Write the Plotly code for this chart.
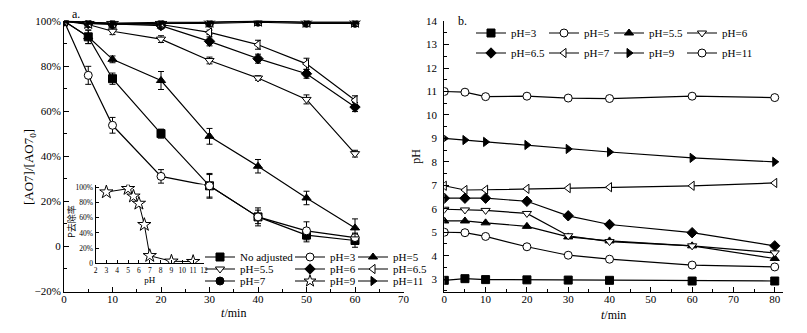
import plotly.graph_objects as go

# ---------------- data: panel a ----------------
t_a = [0, 5, 10, 20, 30, 40, 50, 60]
names_a = ["No adjusted", "pH=3", "pH=5", "pH=5.5", "pH=6", "pH=6.5", "pH=7", "pH=9", "pH=11"]
a_noadj = [100, 93, 74.4, 50, 26.8, 13, 4.9, 2.5]
a_ph3 = [100, 75.9, 53.7, 31, 26.8, 13, 6.8, 3.8]
a_ph5 = [100, 93, 83, 73.6, 48.8, 35.5, 21.4, 8.1]
a_ph55 = [100, 98.5, 95.5, 92, 82.5, 74.7, 65.2, 41.1]
a_ph6 = [100, 99, 98.8, 98, 91, 83.3, 76.6, 61.8]
a_ph65 = [100, 99.5, 99, 98.5, 95, 89.5, 81, 64.8]
a_ph7 = [100, 99, 98.5, 99, 99, 99.5, 99, 99]
a_ph9 = [100, 99, 99, 99, 99.5, 100, 99.5, 99.5]
a_ph11 = [100, 99.5, 99, 99.5, 99.5, 100, 99.5, 99.5]

e_noadj = [0, 3, 2.5, 2, 5, 3, 3, 3]
e_ph3 = [0, 4, 3.5, 3, 5.5, 4, 4, 2]
e_ph5 = [0, 3, 1.5, 4, 3.5, 3, 3, 4]
e_ph55 = [0, 1, 1.5, 1.5, 1.5, 1, 2, 1.5]
e_ph6 = [0, 1, 1, 1.5, 2, 2, 2, 2]
e_ph65 = [0, 1, 1, 1, 1, 2, 2.5, 2]
e_ph7 = [0, 0.5, 0.5, 0.5, 0.5, 0.5, 0.5, 0.5]
e_ph9 = [0, 0.5, 0.5, 0.5, 0.5, 0.5, 0.5, 0.5]
e_ph11 = [0, 0.5, 0.5, 0.5, 0.5, 0.5, 0.5, 0.5]

a_yticks = [-20, 0, 20, 40, 60, 80, 100]
a_yticktext = ["\u221220%", "0", "20%", "40%", "60%", "80%", "100%"]

# inset
inset_ph = [3, 5, 5.5, 6, 6.5, 7, 9, 11]
inset_removal = [94, 98.5, 88.5, 79, 51, 10, 2.7, 2.2]
inset_yticks = [0, 20, 40, 60, 80, 100]
inset_yticktext = ["0", "20%", "40%", "60%", "80%", "100%"]

# ---------------- data: panel b ----------------
t_b = [0, 5, 10, 20, 30, 40, 60, 80]
names_b = ["pH=3", "pH=5", "pH=5.5", "pH=6", "pH=6.5", "pH=7", "pH=9", "pH=11"]
b_ph3 = [2.95, 3.02, 2.98, 2.97, 2.96, 2.95, 2.92, 2.92]
b_ph5 = [5.0, 4.98, 4.82, 4.38, 4.02, 3.85, 3.6, 3.52]
b_ph55 = [5.48, 5.48, 5.4, 5.25, 4.8, 4.63, 4.42, 3.88]
b_ph6 = [5.98, 5.95, 5.93, 5.8, 4.85, 4.6, 4.42, 4.12]
b_ph65 = [6.45, 6.45, 6.45, 6.32, 5.7, 5.33, 4.98, 4.42]
b_ph7 = [6.98, 6.8, 6.81, 6.85, 6.88, 6.92, 6.98, 7.1]
b_ph9 = [9.0, 8.93, 8.85, 8.72, 8.55, 8.42, 8.17, 8.0]
b_ph11 = [11.0, 10.97, 10.78, 10.8, 10.72, 10.7, 10.8, 10.74]

FONT = "Liberation Serif"
BLACK = "#000000"
W, H = 807, 333


def px(x):
    return x / W


def py(y):
    return 1 - y / H


def marker(sym, size=8):
    hollow = sym.endswith("-open")
    base = sym.replace("-open", "")
    return dict(symbol=base, size=size, color="white" if hollow else BLACK,
                line=dict(color=BLACK, width=1))


fig = go.Figure()

series_a = [
    (a_noadj, e_noadj, "square", "legend", 45),
    (a_ph3, e_ph3, "circle-open", "legend", 18),
    (a_ph5, e_ph5, "triangle-up", "legend", 30),
    (a_ph55, e_ph55, "triangle-down-open", "legend2", 45),
    (a_ph6, e_ph6, "diamond", "legend2", 18),
    (a_ph65, e_ph65, "triangle-left-open", "legend2", 30),
    (a_ph7, e_ph7, "circle", "legend3", 45),
    (a_ph9, e_ph9, "star-open", "legend3", 18),
    (a_ph11, e_ph11, "triangle-right", "legend3", 30),
]
for name, (vals, errs, sym, leg, lw) in zip(names_a, series_a):
    fig.add_trace(go.Scatter(
        x=t_a, y=vals, name=name, mode="lines+markers",
        line=dict(color=BLACK, width=1.2),
        marker=marker(sym, 9 if "star" in sym else 8),
        error_y=dict(type="data", array=errs, color=BLACK, thickness=1, width=3),
        xaxis="x", yaxis="y", legend=leg, legendwidth=lw,
    ))

# inset
fig.add_trace(go.Scatter(
    x=inset_ph, y=inset_removal, mode="lines+markers", showlegend=False,
    line=dict(color=BLACK, width=1),
    marker=marker("star-open", 10),
    xaxis="x3", yaxis="y3",
))

series_b = [
    (b_ph3, "square", "legend4", 28),
    (b_ph5, "circle-open", "legend4", 20),
    (b_ph55, "triangle-up", "legend4", 28),
    (b_ph6, "triangle-down-open", "legend4", 30),
    (b_ph65, "diamond", "legend5", 28),
    (b_ph7, "triangle-left-open", "legend5", 20),
    (b_ph9, "triangle-right", "legend5", 28),
    (b_ph11, "circle-open", "legend5", 30),
]
for name, (vals, sym, leg, lw) in zip(names_b, series_b):
    fig.add_trace(go.Scatter(
        x=t_b, y=vals, name=name, mode="lines+markers",
        line=dict(color=BLACK, width=1.2),
        marker=marker(sym, 8),
        xaxis="x2", yaxis="y2", legend=leg, legendwidth=lw,
    ))

YDOM = [0.123, 0.938]

axis_common = dict(
    showline=True, linecolor=BLACK, linewidth=1, ticks="inside", ticklen=5,
    tickcolor=BLACK, showgrid=False, zeroline=False, mirror=False,
    tickfont=dict(family=FONT, size=11, color=BLACK), automargin=False,
)
inset_common = dict(
    showline=True, linecolor=BLACK, linewidth=1, ticks="inside", ticklen=3,
    tickcolor=BLACK, showgrid=False, zeroline=False, automargin=False,
    tickfont=dict(family=FONT, size=7.5, color=BLACK),
)


def leg(x, y, size=11):
    return dict(x=x, y=y, xanchor="left", yanchor="middle", orientation="h",
                bgcolor="rgba(0,0,0,0)", borderwidth=0, tracegroupgap=0,
                font=dict(family=FONT, size=size, color=BLACK), itemsizing="trace")


def label(text, x, y, size=12, angle=0, family=FONT, anchor="center"):
    return dict(text=text, x=px(x), y=py(y), xref="paper", yref="paper",
                showarrow=False, xanchor=anchor, yanchor="middle", textangle=angle,
                font=dict(family=family, size=size, color=BLACK))


fig.update_layout(
    width=W, height=H, margin=dict(l=0, r=0, t=0, b=0),
    paper_bgcolor="white", plot_bgcolor="white", showlegend=True,
    font=dict(family=FONT, color=BLACK),
    xaxis=dict(**axis_common, domain=[px(64), px(403.5)], range=[0, 70], dtick=10,
               ticklabelstandoff=-3,
               minor=dict(ticks="inside", ticklen=3, dtick=5, tickcolor=BLACK),
               title=dict(text="<i>t</i>/min", font=dict(family=FONT, size=12, color=BLACK), standoff=4),
               anchor="y"),
    yaxis=dict(**axis_common, domain=YDOM, range=[-20.4, 100.2],
               tickmode="array", tickvals=a_yticks, ticktext=a_yticktext,
               minor=dict(ticks="inside", ticklen=3, tickmode="linear", tick0=0, dtick=10, tickcolor=BLACK),
               anchor="x"),
    xaxis2=dict(**axis_common, domain=[px(444.3), px(783)], range=[0, 82], dtick=10,
                ticklabelstandoff=-3,
                minor=dict(ticks="inside", ticklen=3, dtick=5, tickcolor=BLACK),
                title=dict(text="<i>t</i>/min", font=dict(family=FONT, size=12, color=BLACK), standoff=6),
                anchor="y2"),
    yaxis2=dict(**axis_common, domain=YDOM, range=[2.45, 14.02], dtick=1,
                ticklabelstandoff=4,
                minor=dict(ticks="inside", ticklen=3, dtick=0.5, tickcolor=BLACK),
                title=dict(text="pH", font=dict(family=FONT, size=12, color=BLACK), standoff=2),
                anchor="x2"),
    xaxis3=dict(**inset_common, domain=[px(95.5), px(204)], range=[2, 12], dtick=1,
                title=dict(text="pH", font=dict(family=FONT, size=9, color=BLACK), standoff=1),
                anchor="y3"),
    yaxis3=dict(**inset_common, domain=[py(263.3), py(184.5)], range=[0, 104],
                tickmode="array", tickvals=inset_yticks, ticktext=inset_yticktext,
                anchor="x3"),
    legend=leg(px(200), py(257)),
    legend2=leg(px(200), py(269)),
    legend3=leg(px(200), py(281)),
    legend4=leg(px(471), py(33)),
    legend5=leg(px(471), py(53)),
    annotations=[
        label("a.", 70, 14, anchor="left"),
        label("b.", 456, 21, anchor="left"),
        label("[AO7]/[AO7<sub>0</sub>]", 29, 167, size=13, angle=-90),
        label("P去除率", 71, 222, size=9, angle=-90, family="Noto Sans CJK SC"),
    ],
)

fig.write_html("out.html", config={"displayModeBar": False},
               post_script="document.body.style.margin='0';")
